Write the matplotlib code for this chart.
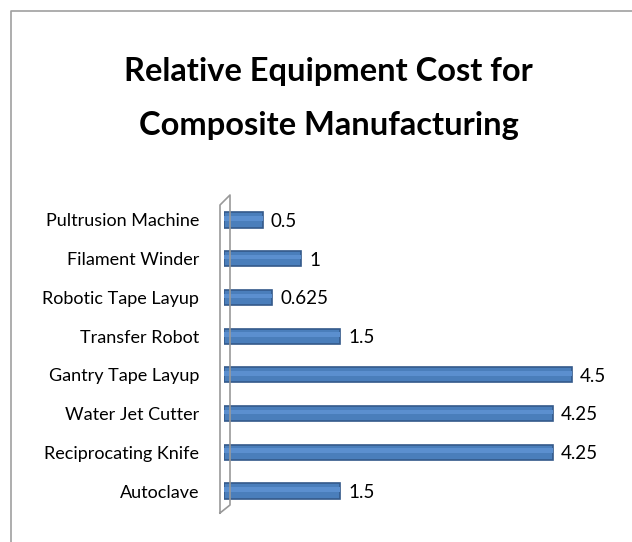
import matplotlib
matplotlib.use("Agg")
import matplotlib.pyplot as plt
from matplotlib.lines import Line2D

categories = ["Autoclave", "Reciprocating Knife", "Water Jet Cutter", "Gantry Tape Layup",
              "Transfer Robot", "Robotic Tape Layup", "Filament Winder", "Pultrusion Machine"]
values = [1.5, 4.25, 4.25, 4.5, 1.5, 0.625, 1, 0.5]
value_labels = ["1.5", "4.25", "4.25", "4.5", "1.5", "0.625", "1", "0.5"]

plt.rcParams['font.family'] = ['Lato', 'DejaVu Sans']

W, H = 632, 542
fig = plt.figure(figsize=(W / 100, H / 100), dpi=100)

# outer chart border (runs off right and bottom edge)
fig.add_artist(Line2D([11 / W, 11 / W, 1.0], [0.0, 1 - 11 / H, 1 - 11 / H],
                      color="#a0a0a0", lw=1.2))

fig.text(0.52, 1 - 72 / H, "Relative Equipment Cost for", ha="center", va="center",
         fontsize=23.5, fontweight="bold")
fig.text(0.52, 1 - 126 / H, "Composite Manufacturing", ha="center", va="center",
         fontsize=23.5, fontweight="bold")

ax = fig.add_axes([224 / W, 0.0583, 386.5 / W, 0.5716])
y = list(range(len(categories)))
ax.barh(y, values, height=0.39, color="#4a7ebb", edgecolor="#34598a", linewidth=1.2, zorder=3)
ax.barh([v + 0.04 for v in y], values, height=0.12, color="#5b8fcf", linewidth=0, zorder=4)
for yi, v, lab in zip(y, values, value_labels):
    ax.annotate(lab, (v, yi), xytext=(6, -1), textcoords="offset points",
                ha="left", va="center", fontsize=13.5)

ax.set_xlim(0, 5)
ax.set_ylim(-0.5, 7.5)
ax.set_yticks(y)
ax.set_yticklabels(categories, fontsize=13)
ax.tick_params(axis="y", length=0, pad=18)
ax.set_xticks([])
for s in ax.spines.values():
    s.set_visible(False)

# 3d wall at the left of the plot
wall_x = [220, 220, 230, 230, 220]
wall_y = [513, 205, 195, 505, 513]
fig.add_artist(Line2D([x / W for x in wall_x], [1 - v / H for v in wall_y],
                      color="#999999", lw=1.2))

fig.savefig("out.png", dpi=100)
